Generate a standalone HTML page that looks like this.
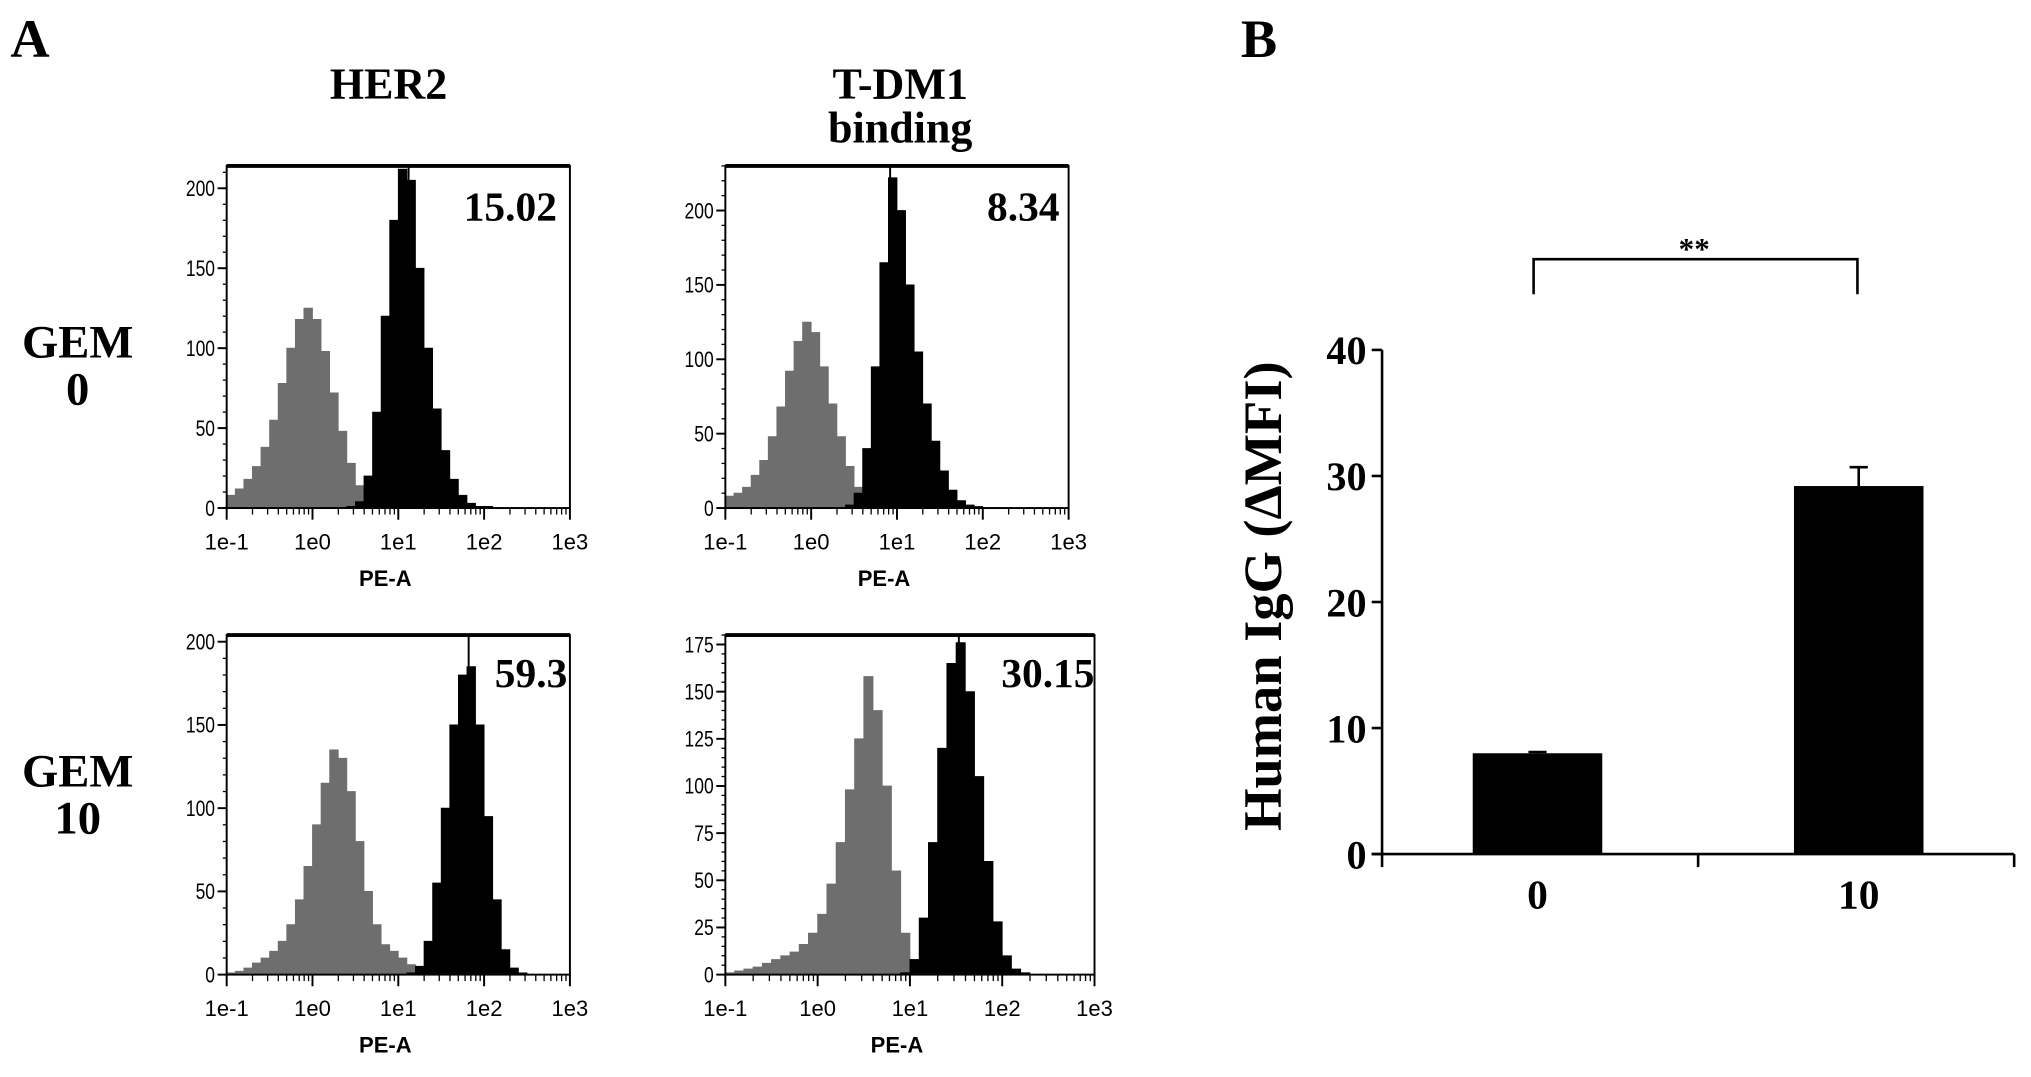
<!DOCTYPE html>
<html><head><meta charset="utf-8"><style>
html,body{margin:0;padding:0;background:#fff;}
svg{display:block;}
text{font-family:"Liberation Serif",serif;font-weight:bold;fill:#000;}
.tk{font-family:"Liberation Sans",sans-serif;font-weight:normal;font-size:17px;}
</style></head><body>
<svg id="fig" width="2031" height="1077" viewBox="0 0 1568 831" preserveAspectRatio="none" xmlns="http://www.w3.org/2000/svg">
<text x="8" y="44" font-size="42">A</text>
<text x="958" y="44" font-size="42">B</text>
<text x="300" y="76" font-size="34" text-anchor="middle">HER2</text>
<text x="695" y="76" font-size="34" text-anchor="middle">T-DM1</text>
<text x="695" y="110" font-size="34" text-anchor="middle">binding</text>
<text x="60" y="276" font-size="36" text-anchor="middle">GEM</text>
<text x="60" y="312" font-size="36" text-anchor="middle">0</text>
<text x="60" y="607" font-size="36" text-anchor="middle">GEM</text>
<text x="60" y="643" font-size="36" text-anchor="middle">10</text>
<g id="hists"></g>
<g id="barchart"></g>
</svg>
<script>
// Histogram data: 40 bins of 0.1 decade from 1e-1 to 1e3
const p1Gray = [8,12,18,26,38,55,78,100,118,125,118,98,72,48,28,14,6,2,1,0,0,0,0,0,0,0,0,0,0,0,0,0,0,0,0,0,0,0,0,0];
const p1Black = [0,0,0,0,0,0,0,0,0,0,0,0,0,0,1,4,20,60,120,180,212,205,150,100,62,36,18,8,3,1,1,0,0,0,0,0,0,0,0,0];
const p2Gray = [8,10,14,22,32,48,68,92,112,125,118,95,70,48,28,14,6,2,0,0,0,0,0,0,0,0,0,0,0,0,0,0,0,0,0,0,0,0,0,0];
const p2Black = [0,0,0,0,0,0,0,0,0,0,0,0,0,0,2,10,40,95,165,222,200,150,105,70,45,25,12,5,2,1,0,0,0,0,0,0,0,0,0,0];
const p3Gray = [1,2,4,7,10,14,20,30,45,65,90,115,135,130,110,80,50,30,18,14,10,6,3,1,0,0,0,0,0,0,0,0,0,0,0,0,0,0,0,0];
const p3Black = [0,0,0,0,0,0,0,0,0,0,0,0,0,0,0,0,0,0,0,0,0,1,5,20,55,100,150,180,185,150,95,45,15,4,1,0,0,0,0,0];
const p4Gray = [1,2,3,4,6,8,10,12,16,22,32,48,70,98,125,158,140,100,55,22,8,3,1,0,0,0,0,0,0,0,0,0,0,0,0,0,0,0,0,0];
const p4Black = [0,0,0,0,0,0,0,0,0,0,0,0,0,0,0,0,0,0,0,1,8,30,70,120,165,176,150,105,60,28,10,3,1,0,0,0,0,0,0,0];
const p1Ticks = [0,50,100,150,200];
const p2Ticks = [0,50,100,150,200];
const p3Ticks = [0,50,100,150,200];
const p4Ticks = [0,25,50,75,100,125,150,175];
const xTickLabels = ["1e-1","1e0","1e1","1e2","1e3"];
const panelValues = ["15.02","8.34","59.3","30.15"];
const panelMarkers = [1.12, 0.92, 1.82, 1.53];
// Bar chart data
const barCategories = ["0","10"];
const barValues = [8.0, 29.2];
const barErrors = [0.1, 1.5];
const barYTicks = [0,10,20,30,40];

const NS = "http://www.w3.org/2000/svg";
function mk(tag, attrs, parent){const e=document.createElementNS(NS,tag);for(const k in attrs)e.setAttribute(k,attrs[k]);parent.appendChild(e);return e;}

const panels = [
 {name:"her2-gem0",x:175,y:128,w:265,h:264,max:214,gray:p1Gray,black:p1Black,ticks:p1Ticks,val:panelValues[0],mk:panelMarkers[0],vx:430,vy:170},
 {name:"tdm1-gem0",x:560,y:128,w:265,h:264,max:230,gray:p2Gray,black:p2Black,ticks:p2Ticks,val:panelValues[1],mk:panelMarkers[1],vx:818,vy:170},
 {name:"her2-gem10",x:175,y:490,w:265,h:262,max:204,gray:p3Gray,black:p3Black,ticks:p3Ticks,val:panelValues[2],mk:panelMarkers[2],vx:438,vy:530},
 {name:"tdm1-gem10",x:560,y:490,w:285,h:262,max:180,gray:p4Gray,black:p4Black,ticks:p4Ticks,val:panelValues[3],mk:panelMarkers[3],vx:845,vy:530}
];
const hg = document.getElementById("hists");
panels.forEach(p=>{
  const g = mk("g",{},hg);
  
  
  const xs = l => p.x + (l+1)/4*p.w;
  const ys = v => p.y + p.h - v/p.max*p.h;
  function series(arr,color,nm){
    let d = "M"+xs(-1)+","+ys(0);
    arr.forEach((v,i)=>{const l0=-1+i*0.1,l1=l0+0.1;d+=" L"+xs(l0)+","+ys(Math.min(v,p.max))+" L"+xs(l1)+","+ys(Math.min(v,p.max));});
    d+=" L"+xs(3)+","+ys(0)+"Z";
    const path = mk("path",{d:d,fill:color,stroke:color,"stroke-width":0.6},g);
    
    
  }
  series(p.gray,"#6e6e6e","control-series");
  series(p.black,"#000","stained-series");
  const box = mk("rect",{x:p.x,y:p.y,width:p.w,height:p.h,fill:"none",stroke:"#000","stroke-width":1.5},g);
  
  
  mk("line",{x1:p.x,y1:p.y,x2:p.x+p.w,y2:p.y,stroke:"#000","stroke-width":3},g);
  const mline = mk("line",{x1:xs(p.mk),y1:p.y,x2:xs(p.mk),y2:p.y+40,stroke:"#000","stroke-width":1.5},g);
  
  
  const vt = mk("text",{x:p.vx,y:p.vy,"font-size":32,"text-anchor":"end"},g);
  vt.textContent = p.val;
  
  
  const step = p.ticks[1]-p.ticks[0];
  for(let v=0; v<=p.max; v+=step/5){mk("line",{x1:p.x-3,y1:ys(v),x2:p.x,y2:ys(v),stroke:"#000","stroke-width":1},g);}
  p.ticks.forEach(v=>{
    mk("line",{x1:p.x-7,y1:ys(v),x2:p.x,y2:ys(v),stroke:"#000","stroke-width":1.5},g);
    const t = mk("text",{x:p.x-9,y:ys(v)+6,"text-anchor":"end",class:"tk",textLength:String(v).length*7.5,lengthAdjust:"spacingAndGlyphs"},g);
    t.textContent = v;
    
    
  });
  xTickLabels.forEach((lab,i)=>{
    const l = i-1;
    mk("line",{x1:xs(l),y1:p.y+p.h,x2:xs(l),y2:p.y+p.h+9,stroke:"#000","stroke-width":1.5},g);
    if(i<4){for(let m=2;m<10;m++){const lx=xs(l+Math.log10(m));mk("line",{x1:lx,y1:p.y+p.h,x2:lx,y2:p.y+p.h+5,stroke:"#000","stroke-width":1},g);}}
    const t = mk("text",{x:xs(l),y:p.y+p.h+32,"text-anchor":"middle",class:"tk"},g);
    t.textContent = lab;
    
    
  });
  const xt = mk("text",{x:p.x+p.w/2-10,y:p.y+p.h+60,"text-anchor":"middle",class:"tk",style:"font-weight:bold"},g);
  xt.textContent = "PE-A";
  
  
});

// Bar chart
const bc = document.getElementById("barchart");
const ax0 = 1067, ax1 = 1555, yTop = 270, yBot = 659, yMax = 40;
const yS = v => yBot - v/yMax*(yBot-yTop);
const catX = [1187,1435];
mk("line",{x1:ax0,y1:yTop,x2:ax0,y2:yBot,stroke:"#000","stroke-width":2},bc);
mk("line",{x1:ax0-8,y1:yBot,x2:ax1,y2:yBot,stroke:"#000","stroke-width":2},bc);
[ax0,(ax0+ax1)/2,ax1].forEach(x=>mk("line",{x1:x,y1:yBot,x2:x,y2:yBot+10,stroke:"#000","stroke-width":2},bc));
barYTicks.forEach(v=>{
  mk("line",{x1:ax0-8,y1:yS(v),x2:ax0,y2:yS(v),stroke:"#000","stroke-width":2},bc);
  const t = mk("text",{x:ax0-12,y:yS(v)+11,"text-anchor":"end","font-size":31},bc);
  t.textContent = v;
  
  
});
barCategories.forEach((c,i)=>{
  const cx = catX[i];
  const top = yS(barValues[i]);
  const eTop = yS(barValues[i]+barErrors[i]);
  mk("line",{x1:cx,y1:top,x2:cx,y2:eTop,stroke:"#000","stroke-width":2},bc);
  mk("line",{x1:cx-7,y1:eTop,x2:cx+7,y2:eTop,stroke:"#000","stroke-width":2},bc);
  const r = mk("rect",{x:cx-50,y:top,width:100,height:yBot-top,fill:"#000"},bc);
  
  
  const t = mk("text",{x:cx,y:yBot+42,"text-anchor":"middle","font-size":32},bc);
  t.textContent = c;
  
  
});
const br = mk("path",{d:"M"+(catX[0]-3)+",227 V200 H"+(catX[1]-1)+" V227",fill:"none",stroke:"#000","stroke-width":2},bc);


const st = mk("text",{x:(catX[0]+catX[1])/2-3,y:200,"text-anchor":"middle","font-size":24,"font-weight":"normal"},bc);
st.textContent = "**";


const yt = mk("text",{x:0,y:0,"text-anchor":"middle","font-size":42,transform:"translate(989,460) rotate(-90)"},bc);
yt.textContent = "Human IgG (ΔMFI)";


</script>
</body></html>
